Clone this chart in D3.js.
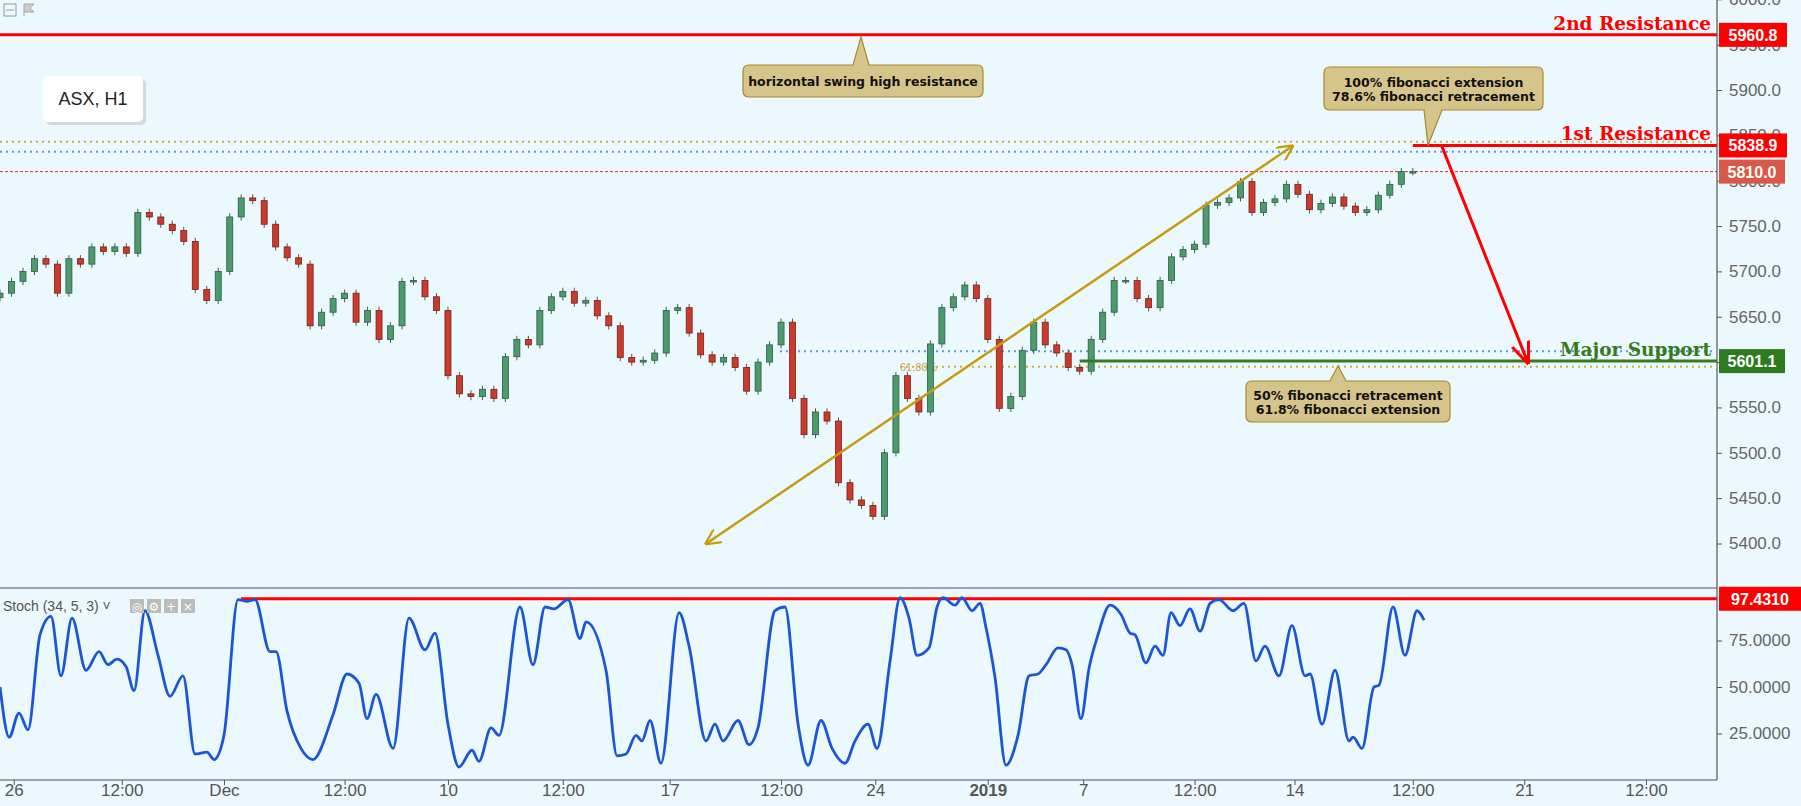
<!DOCTYPE html><html><head><meta charset="utf-8">
<script src="https://cdn.jsdelivr.net/npm/d3@7"></script>
<style>body{margin:0;background:#ebf8fe}svg{display:block}</style></head><body>
<svg id="c" width="1801" height="806"></svg>
<script>
const closes=[5676,5689,5700,5714,5708,5676,5714,5708,5727,5722,5727,5720,5765,5760,5752,5745,5733,5680,5668,5700,5760,5781,5778,5752,5727,5715,5708,5640,5655,5670,5676,5644,5657,5625,5640,5689,5690,5672,5657,5585,5565,5562,5570,5560,5606,5625,5619,5657,5672,5678,5665,5668,5651,5640,5605,5600,5602,5610,5657,5660,5632,5608,5600,5605,5594,5568,5600,5619,5644,5560,5520,5545,5535,5467,5448,5442,5430,5500,5585,5560,5545,5620,5660,5672,5685,5670,5625,5549,5562,5613,5644,5619,5610,5594,5590,5625,5655,5690,5690,5670,5660,5690,5716,5724,5730,5773,5776,5781,5799,5765,5776,5780,5796,5785,5768,5775,5782,5772,5765,5768,5784,5796,5810,5810];
const stochIdx=[0,0.8,1.65,2.44,3.48,4.44,5.31,6.27,7.49,8.62,9.4,10.19,10.97,11.67,12.62,13.76,14.8,15.93,16.98,18.02,18.63,19.5,20.72,21.5,22.2,23.5,24.03,24.99,26.2,27.25,28.99,30.21,31.26,31.95,32.74,34.22,35.61,37,37.87,39,39.96,41.09,41.7,42.75,43.44,45.27,46.4,47.45,48.23,49.45,50.5,51.02,52.76,53.72,54.5,55.37,55.89,56.59,57.55,59.12,59.99,61.47,62.25,62.95,64.25,65.21,65.99,67.47,68.34,69.48,70.35,71.48,72.44,73.57,74.44,75.57,76.35,77.49,78.36,79.14,79.84,80.88,81.58,82.1,83.14,83.75,84.63,85.32,85.84,86.63,87.58,88.63,89.59,90.37,91.07,92.11,92.81,93.33,94.11,94.81,95.59,96.64,97.6,98.38,98.82,99.77,100.56,101.25,101.95,102.73,103.6,104.48,105.35,106.13,107.35,108.3,109.35,110.13,111.35,112.48,113.62,114.05,115.1,116.23,117.45,117.8,118.58,119.62,120.06,121.28,122.32,123.37,123.98];
const stochVal=[50,23,36,27,78,88,56,87,59,69,62,65,61,48,91,67,45,56,14,15,11,24,97,96,97,69,69,37,17,11,35,57,52,33,46,17,87,70,79,30,7,16,10,28,24,93,62,93,92,97,76,85,59,13,14,24,21,32,9,90,72,21,30,21,32,19,28,91,93,30,8,32,17,9,21,30,17,64,98,87,67,71,93,98,94,98,91,95,82,55,8,24,56,57,62,71,70,62,33,60,78,94,89,79,78,63,72,67,90,83,92,80,95,97,91,95,64,72,56,83,56,57,30,59,21,23,17,50,51,93,67,91,86];
const xTickIdx=[1.2,10.6,19.5,30,39,49,58.3,68,76.2,86,94.3,104,112.7,123,132.7,143.3];
const xTickLabels=["26","12:00","Dec","12:00","10","12:00","17","12:00","24","2019","7","12:00","14","12:00","21","12:00"];
const priceTicks=[5400,5450,5500,5550,5600,5650,5700,5750,5800,5850,5900,5950,6000];
const stochTicks=[25,50,75];
const levels={r2:5960.8,r1:5838.9,last:5810.0,sup:5601.1,stochHi:97.431};

const svg=d3.select("#c");
const W=1801,axisX=1717;
const x=d3.scaleLinear().domain([0,123]).range([0,1412.8]);
const y=d3.scaleLinear().domain([5400,5900]).range([543.5,90]);
const ys=d3.scaleLinear().domain([0,100]).range([780,594]);
svg.append("rect").attr("width",W).attr("height",806).attr("fill","#ebf8fe");

svg.append("line").attr("x1",0).attr("x2",axisX).attr("y1",588).attr("y2",588).attr("stroke","#555").attr("stroke-width",1.2);
svg.append("line").attr("x1",0).attr("x2",axisX).attr("y1",780).attr("y2",780).attr("stroke","#555").attr("stroke-width",1.2);
svg.append("line").attr("x1",axisX).attr("x2",axisX).attr("y1",0).attr("y2",780).attr("stroke","#555").attr("stroke-width",1.2);

const pa=svg.append("g").attr("transform",`translate(${axisX},0)`).call(d3.axisRight(y).tickValues(priceTicks).tickFormat(d3.format(".1f")).tickSize(5));
pa.select(".domain").remove();
pa.selectAll("text").attr("font-family","Liberation Sans, Arial").attr("font-size",17).attr("fill","#666").attr("dx",4);
pa.selectAll("line").attr("stroke","#555");
const sa=svg.append("g").attr("transform",`translate(${axisX},0)`).call(d3.axisRight(ys).tickValues(stochTicks).tickFormat(d3.format(".4f")).tickSize(5));
sa.select(".domain").remove();
sa.selectAll("text").attr("font-family","Liberation Sans, Arial").attr("font-size",17).attr("fill","#666").attr("dx",4);
sa.selectAll("line").attr("stroke","#555");
const ta=svg.append("g").attr("transform","translate(0,780)").call(d3.axisBottom(x).tickValues(xTickIdx).tickFormat((d,i)=>xTickLabels[i]).tickSize(5));
ta.select(".domain").remove();
ta.selectAll("text").attr("font-family","Liberation Sans, Arial").attr("font-size",17).attr("fill","#555").attr("dy",8)
  .attr("font-weight",(d,i)=>xTickLabels[i]==="2019"?"bold":"normal");
ta.selectAll("line").attr("stroke","#555");

function hline(v,x1,x2,col,dash,w){svg.append("line").attr("x1",x1).attr("x2",x2).attr("y1",y(v)).attr("y2",y(v)).attr("stroke",col).attr("stroke-width",w).attr("stroke-dasharray",dash);}
hline(5843,0,axisX,"#c9b23a","2,4",2);
hline(5832,0,axisX,"#5a9be0","2,4",2);
hline(levels.last,0,axisX,"#e8281e","3,2",1);
hline(5612,780,axisX,"#5a9be0","2,4",2);
hline(5595,900,axisX,"#c9b23a","2,4",2);
svg.append("text").attr("x",900).attr("y",y(5595)+4).attr("font-family","Liberation Sans").attr("font-size",11).attr("fill","#c9a83a").text("61.80%");

const cg=svg.append("g");
closes.forEach((c,i)=>{
  const o=i?closes[i-1]:c-5; const up=c>=o;
  const hi=Math.max(o,c)+4, lo=Math.min(o,c)-4;
  cg.append("line").attr("x1",x(i)).attr("x2",x(i)).attr("y1",y(hi)).attr("y2",y(lo)).attr("stroke","#555").attr("stroke-width",1);
  cg.append("rect").attr("x",x(i)-3).attr("width",6).attr("y",y(Math.max(o,c))).attr("height",Math.max(1.5,Math.abs(y(o)-y(c))))
    .attr("fill",up?"#4c9a6e":"#c93b2c").attr("stroke",up?"#2a5e40":"#7a1e15").attr("stroke-width",0.8);
});

svg.append("line").attr("x1",0).attr("x2",axisX).attr("y1",y(levels.r2)).attr("y2",y(levels.r2)).attr("stroke","#f00").attr("stroke-width",3);
svg.append("line").attr("x1",x(123)).attr("x2",axisX).attr("y1",y(levels.r1)).attr("y2",y(levels.r1)).attr("stroke","#f00").attr("stroke-width",3);
svg.append("line").attr("x1",x(94)).attr("x2",axisX).attr("y1",y(levels.sup)).attr("y2",y(levels.sup)).attr("stroke","#3a7a1e").attr("stroke-width",3);
function ltxt(t,v,col){svg.append("text").attr("x",axisX-6).attr("y",y(v)-5).attr("text-anchor","end").attr("font-family","DejaVu Serif, serif").attr("font-weight","bold").attr("font-size",18.5).attr("fill",col).text(t);}
ltxt("2nd Resistance",levels.r2,"#f00");ltxt("1st Resistance",levels.r1,"#f00");ltxt("Major Support",levels.sup,"#3a7a1e");
function box(yy,txt,col,w){svg.append("rect").attr("x",axisX+2).attr("y",yy-12).attr("width",w).attr("height",24).attr("fill",col);
  svg.append("text").attr("x",axisX+2+w/2).attr("y",yy+6).attr("text-anchor","middle").attr("font-family","Liberation Sans, Arial").attr("font-weight","bold").attr("font-size",16).attr("fill","#fff").text(txt);}
box(y(levels.r2),"5960.8","#f00",68);box(y(levels.r1),"5838.9","#f00",68);box(y(levels.last),"5810.0","#d9584a",66);box(y(levels.sup),"5601.1","#2e7a1e",66);

const defs=svg.append("defs");
defs.append("marker").attr("id","g").attr("viewBox","0 0 10 10").attr("refX",9).attr("refY",5).attr("markerWidth",16).attr("markerHeight",16).attr("orient","auto-start-reverse").attr("markerUnits","userSpaceOnUse").append("path").attr("d","M0,0L10,5L0,10").attr("fill","none").attr("stroke","#c89a10").attr("stroke-width",1.4);
defs.append("marker").attr("id","r").attr("viewBox","0 0 10 10").attr("refX",9).attr("refY",5).attr("markerWidth",22).attr("markerHeight",22).attr("orient","auto").attr("markerUnits","userSpaceOnUse").append("path").attr("d","M0,1L10,5L0,9").attr("fill","none").attr("stroke","#f00").attr("stroke-width",1.4);
svg.append("line").attr("x1",x(61.5)).attr("y1",y(5400)).attr("x2",x(112.5)).attr("y2",y(5838)).attr("stroke","#c89a10").attr("stroke-width",2.5).attr("marker-start","url(#g)").attr("marker-end","url(#g)");
svg.append("line").attr("x1",x(125.5)).attr("y1",y(levels.r1)).attr("x2",x(133)).attr("y2",y(5600)).attr("stroke","#f00").attr("stroke-width",3).attr("marker-end","url(#r)");

function callout(x1,y1,w,h,tipX,tipY,lines,up){
  const g=svg.append("g");
  let d=`M${x1+6},${y1}`;
  if(up) d+=`L${tipX-8},${y1}L${tipX},${tipY}L${tipX+8},${y1}`;
  d+=`L${x1+w-6},${y1}Q${x1+w},${y1} ${x1+w},${y1+6}L${x1+w},${y1+h-6}Q${x1+w},${y1+h} ${x1+w-6},${y1+h}`;
  if(!up) d+=`L${tipX+14},${y1+h}L${tipX},${tipY}L${tipX-4},${y1+h}`;
  d+=`L${x1+6},${y1+h}Q${x1},${y1+h} ${x1},${y1+h-6}L${x1},${y1+6}Q${x1},${y1} ${x1+6},${y1}Z`;
  g.append("path").attr("d",d).attr("fill","#d6c58a").attr("stroke","#a8892a").attr("stroke-width",1.2);
  lines.forEach((t,i)=>g.append("text").attr("x",x1+w/2).attr("y",y1+h/2+5+(i-(lines.length-1)/2)*14).attr("text-anchor","middle").attr("font-family","DejaVu Sans, sans-serif").attr("font-weight","bold").attr("font-size",12.5).attr("fill","#111").text(t));
}
callout(743,65,240,32,861,y(levels.r2)+2,["horizontal swing high resistance"],true);
callout(1324,67,219,43,1428,y(levels.r1),["100% fibonacci extension","78.6% fibonacci retracement"],false);
callout(1246,381,204,41,1338,y(5596),["50% fibonacci retracement","61.8% fibonacci extension"],true);

svg.append("rect").attr("x",46).attr("y",79).attr("width",100).attr("height",46).attr("rx",5).attr("fill","#bbb").attr("opacity",0.5);
svg.append("rect").attr("x",43).attr("y",76).attr("width",100).attr("height",46).attr("rx",5).attr("fill","#fff");
svg.append("text").attr("x",93).attr("y",105).attr("text-anchor","middle").attr("font-family","Liberation Sans, Arial").attr("font-size",18).attr("fill","#222").text("ASX, H1");
svg.append("rect").attr("x",4).attr("y",4).attr("width",12).attr("height",12).attr("fill","none").attr("stroke","#999");
svg.append("line").attr("x1",6).attr("x2",14).attr("y1",10).attr("y2",10).attr("stroke","#999");
svg.append("path").attr("d","M24,4L24,16M24,4L34,4L30,8L34,12L24,12").attr("fill","#ccc").attr("stroke","#aaa");

svg.append("line").attr("x1",241).attr("x2",axisX).attr("y1",ys(levels.stochHi)).attr("y2",ys(levels.stochHi)).attr("stroke","#f00").attr("stroke-width",3);
svg.append("path").datum(stochIdx.map((d,i)=>[d,stochVal[i]])).attr("d",d3.line().x(d=>x(d[0])).y(d=>ys(d[1])).curve(d3.curveMonotoneX)).attr("fill","none").attr("stroke","#1a56d6").attr("stroke-width",2.8);
svg.append("rect").attr("x",axisX+2).attr("y",ys(levels.stochHi)-12).attr("width",82).attr("height",24).attr("fill","#f00");
svg.append("text").attr("x",axisX+43).attr("y",ys(levels.stochHi)+6).attr("text-anchor","middle").attr("font-family","Liberation Sans, Arial").attr("font-weight","bold").attr("font-size",16).attr("fill","#fff").text("97.4310");
svg.append("text").attr("x",3).attr("y",611).attr("font-family","Liberation Sans, Arial").attr("font-size",14).attr("fill","#555").text("Stoch (34, 5, 3) ˅");
[130,147,164,181].forEach((xx,i)=>{svg.append("rect").attr("x",xx).attr("y",599).attr("width",14).attr("height",14).attr("fill","#bbb");
 svg.append("text").attr("x",xx+7).attr("y",611).attr("text-anchor","middle").attr("font-family","DejaVu Sans").attr("font-size",12).attr("fill","#fff").text(["◎","⚙","+","×"][i]);});
</script></body></html>
